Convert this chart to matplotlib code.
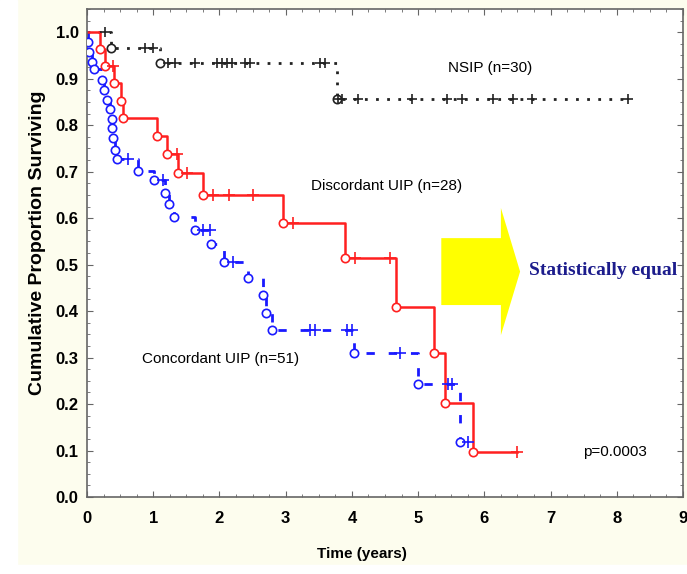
import matplotlib
matplotlib.use("Agg")
import matplotlib.pyplot as plt
from matplotlib.patches import Polygon, Rectangle
from matplotlib.ticker import MultipleLocator

# NSIP (n=30): event times / survival, censored times / level
nsip_t = [0.0, 0.36, 1.10, 3.78]
nsip_s = [1.0, 0.967, 0.933, 0.856]
nsip_end = 8.17
nsip_cens_t = [0.27, 0.88, 1.00, 1.22, 1.33, 1.63, 1.96, 2.04, 2.11, 2.19, 2.39, 2.46, 3.52, 3.60,
               3.79, 3.85, 4.09, 4.91, 5.44, 5.66, 6.13, 6.43, 6.72, 8.17]
nsip_cens_s = [1.0, 0.967, 0.967] + [0.933] * 11 + [0.856] * 10

# Discordant UIP (n=28)
disc_t = [0.0, 0.20, 0.27, 0.41, 0.51, 0.54, 1.05, 1.21, 1.37, 1.75, 2.96, 3.90, 4.67, 5.24, 5.40, 5.83]
disc_s = [1.0, 0.963, 0.927, 0.890, 0.852, 0.815, 0.776, 0.738, 0.697, 0.650, 0.589, 0.514, 0.409,
          0.310, 0.202, 0.097]
disc_end = 6.5
disc_cens_t = [0.39, 1.36, 1.51, 1.90, 2.14, 2.51, 3.11, 4.05, 4.58, 6.5]
disc_cens_s = [0.927, 0.738, 0.697, 0.65, 0.65, 0.65, 0.589, 0.514, 0.514, 0.097]

# Concordant UIP (n=51)
conc_t = [0.0, 0.01, 0.03, 0.08, 0.10, 0.23, 0.25, 0.30, 0.35, 0.37, 0.38, 0.39, 0.42, 0.45, 0.77,
          1.01, 1.18, 1.24, 1.31, 1.63, 1.87, 2.07, 2.43, 2.66, 2.70, 2.79, 4.03, 5.00, 5.63]
conc_s = [1.0, 0.980, 0.957, 0.936, 0.920, 0.897, 0.875, 0.854, 0.834, 0.813, 0.793, 0.772, 0.746,
          0.727, 0.701, 0.682, 0.654, 0.630, 0.602, 0.574, 0.544, 0.505, 0.471, 0.434, 0.396, 0.359,
          0.310, 0.243, 0.118]
conc_end = 5.76
conc_cens_t = [0.62, 1.15, 1.75, 1.86, 2.20, 3.37, 3.44, 3.93, 4.00, 4.73, 5.45, 5.51, 5.76]
conc_cens_s = [0.727, 0.682, 0.574, 0.574, 0.505, 0.359, 0.359, 0.359, 0.359, 0.31, 0.243, 0.243, 0.118]

xticks = list(range(0, 10))
yticks = [i / 10 for i in range(0, 11)]

plt.rcParams['font.family'] = ['Liberation Sans', 'DejaVu Sans']

fig = plt.figure(figsize=(6.87, 5.74), dpi=100, facecolor='#fdfdee')
fig.patches.append(Rectangle((0, 0), 17 / 687, 1, transform=fig.transFigure, color='white', zorder=0))
fig.patches.append(Rectangle((0, 0), 1, 9 / 574, transform=fig.transFigure, color='white', zorder=0))
ax = fig.add_axes([87 / 687, 77 / 574, 596 / 687, 488 / 574])
ax.set_facecolor('white')


def km(t, s, end, cens_t, cens_s, color, ls, lw, cms):
    xs = list(t) + [end]
    ys = list(s) + [s[-1]]
    ax.step(xs, ys, where='post', color=color, linestyle=ls, linewidth=lw, zorder=2)
    ax.plot(t[1:], s[1:], 'o', mfc='white', mec=color, ms=6, mew=1.2, zorder=3)
    ax.plot(cens_t, cens_s, '+', color=color, ms=cms, mew=1.2, zorder=3)


km(nsip_t, nsip_s, nsip_end, nsip_cens_t, nsip_cens_s, '#222222', (0, (1, 3)), 2, 7)
km(conc_t, conc_s, conc_end, conc_cens_t, conc_cens_s, '#1a1aff', (0, (3, 5)), 2, 8)
km(disc_t, disc_s, disc_end, disc_cens_t, disc_cens_s, '#ff2020', '-', 1.8, 8)

# yellow block arrow
arrow = Polygon([(5.35, 0.413), (6.25, 0.413), (6.25, 0.348), (6.54, 0.485),
                 (6.25, 0.622), (6.25, 0.557), (5.35, 0.557)],
                closed=True, facecolor='#ffff00', edgecolor='none', zorder=1)
ax.add_patch(arrow)

ax.text(6.09, 0.923, 'NSIP (n=30)', ha='center', va='center', fontsize=11)
ax.text(4.52, 0.669, 'Discordant UIP (n=28)', ha='center', va='center', fontsize=11)
ax.text(2.02, 0.297, 'Concordant UIP (n=51)', ha='center', va='center', fontsize=11)
ax.text(7.98, 0.097, 'p=0.0003', ha='center', va='center', fontsize=11)
ax.text(7.79, 0.488, 'Statistically equal', ha='center', va='center', fontsize=14,
        family='Liberation Serif', fontweight='bold', color='#1c1c8c')

ax.set_xlim(0, 9)
ax.set_ylim(0, 1.05)
ax.set_xticks(xticks)
ax.set_yticks(yticks)
ax.set_yticklabels(['%.1f' % v for v in yticks])
ax.xaxis.set_minor_locator(MultipleLocator(0.25))
ax.yaxis.set_minor_locator(MultipleLocator(0.025))
ax.tick_params(which='both', direction='in', top=True, right=True, color='#666666')
ax.tick_params(which='major', length=4, labelsize=12)
ax.tick_params(axis='x', which='major', pad=10)
ax.tick_params(axis='y', which='major', pad=6)
ax.tick_params(which='minor', length=2)
for lab in ax.get_xticklabels() + ax.get_yticklabels():
    lab.set_fontweight('bold')
for sp in ax.spines.values():
    sp.set_color('#666666')
    sp.set_linewidth(1.2)

ax.set_xlabel('Time (years)', fontsize=11, fontweight='bold')
ax.set_ylabel('Cumulative Proportion Surviving', fontsize=14, fontweight='bold')
ax.xaxis.set_label_coords((362 - 87) / 596, -0.102)
ax.yaxis.set_label_coords((46 - 87) / 596, 0.52)

fig.savefig('out.png', dpi=100, facecolor=fig.get_facecolor())
